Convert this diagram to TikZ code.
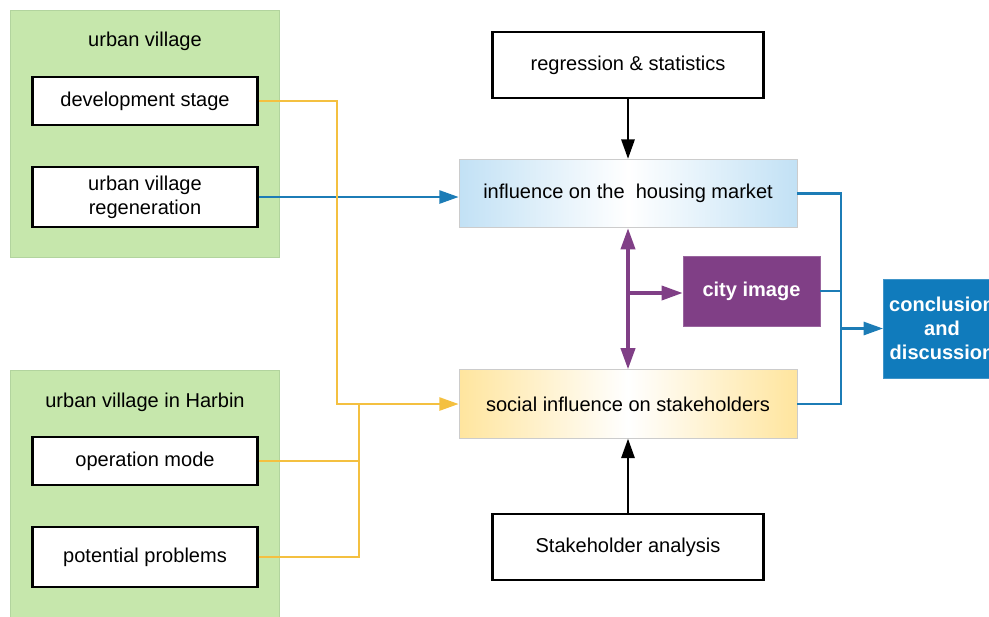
\documentclass[tikz,border=0pt]{standalone}
\usepackage{fontspec}
\setmainfont{Liberation Sans}
\usetikzlibrary{arrows.meta}
\definecolor{groupgreen}{RGB}{198,231,172}
\definecolor{groupedge}{RGB}{178,212,158}
\definecolor{linkblue}{RGB}{28,124,182}
\definecolor{linkyellow}{RGB}{244,192,64}
\definecolor{cityviolet}{RGB}{128,63,134}
\definecolor{endblue}{RGB}{16,123,188}
\definecolor{marketblue}{RGB}{194,225,245}
\definecolor{socialyellow}{RGB}{255,229,158}
\tikzset{
  factor/.style={draw=black, line width=1.3pt, fill=white, align=center,
    inner sep=0pt, minimum width=4.5cm, minimum height=0.96cm},
  method/.style={draw=black, line width=1.3pt, fill=white, align=center,
    inner sep=0pt, minimum width=5.42cm, minimum height=1.32cm},
  effect/.style={draw=black!20, line width=0.5pt, align=center,
    inner sep=0pt, minimum width=6.76cm, minimum height=1.37cm},
  tip/.style={-{Triangle[length=11pt,width=7.5pt]}},
  bluelink/.style={draw=linkblue, line width=1.3pt},
  yellowlink/.style={draw=linkyellow, line width=1.3pt},
}
\begin{document}
\begin{tikzpicture}[x=0.02cm, y=-0.02cm, font=\fontsize{11.4}{13.5}\selectfont]
\useasboundingbox (0,0) rectangle (989,616);

% Groups
\filldraw[fill=groupgreen, draw=groupedge, line width=0.5pt] (10,10) rectangle (279,257);
\node (uvtitle) at (145,41) {urban village};
\filldraw[fill=groupgreen, draw=groupedge, line width=0.5pt] (10,370) rectangle (279,630);
\node (hbtitle) at (145,402) {urban village in Harbin};

% Left boxes
\node[factor] (stage) at (145,101) {development stage};
\node[factor, minimum height=1.2cm] (regen) at (145,197) {urban village\\regeneration};
\node[factor] (mode) at (145,461) {operation mode};
\node[factor, minimum height=1.2cm] (problems) at (145,557) {potential problems};

% Middle boxes
\node[method] (stats) at (628,65) {regression \& statistics};
\node[effect, left color=marketblue, right color=marketblue, middle color=white] (market) at (628,193.5) {influence on the \ housing market};
\node[draw=cityviolet!80, fill=cityviolet, text=white, font=\fontsize{11.4}{13.5}\selectfont\bfseries,
  minimum width=2.74cm, minimum height=1.4cm] (city) at (751.5,291) {city image};
\node[effect, left color=socialyellow, right color=socialyellow, middle color=white] (social) at (628,404) {social influence on stakeholders};
\node[method] (stake) at (628,547) {Stakeholder analysis};

% Result
\node[draw=endblue!80, fill=endblue, text=white, align=center, font=\fontsize{11.4}{13.5}\selectfont\bfseries,
  minimum width=2.24cm, minimum height=1.98cm] (result) at (942,328.5) {conclusion\\and\\discussion};

% Connectors
\draw[black, line width=1.3pt, tip] (stats) -- (market);
\draw[black, line width=1.3pt, tip] (stake) -- (social);
\draw[bluelink, tip] (regen.east) -- (regen.east -| market.west);
\draw[yellowlink, tip] (stage.east) -- (337,101) |- (social.west);
\draw[yellowlink] (mode.east) -- (359,461);
\draw[yellowlink] (problems.east) -- (359,557) -- (359,404);
\draw[cityviolet, line width=2pt, {Triangle[length=12pt,width=8pt]}-{Triangle[length=12pt,width=8pt]}] (market) -- (social);
\draw[cityviolet, line width=2pt, -{Triangle[length=12pt,width=8pt]}] (628,293) -- (city.west |- 628,293);
\coordinate (join) at (841,328.5);
\draw[bluelink] (market.east) -- (841,193.5) -- (841,404) -- (social.east);
\draw[bluelink] (city.east) -- (city.east -| join);
\draw[bluelink, tip] (join) -- (result.west);
\end{tikzpicture}
\end{document}
